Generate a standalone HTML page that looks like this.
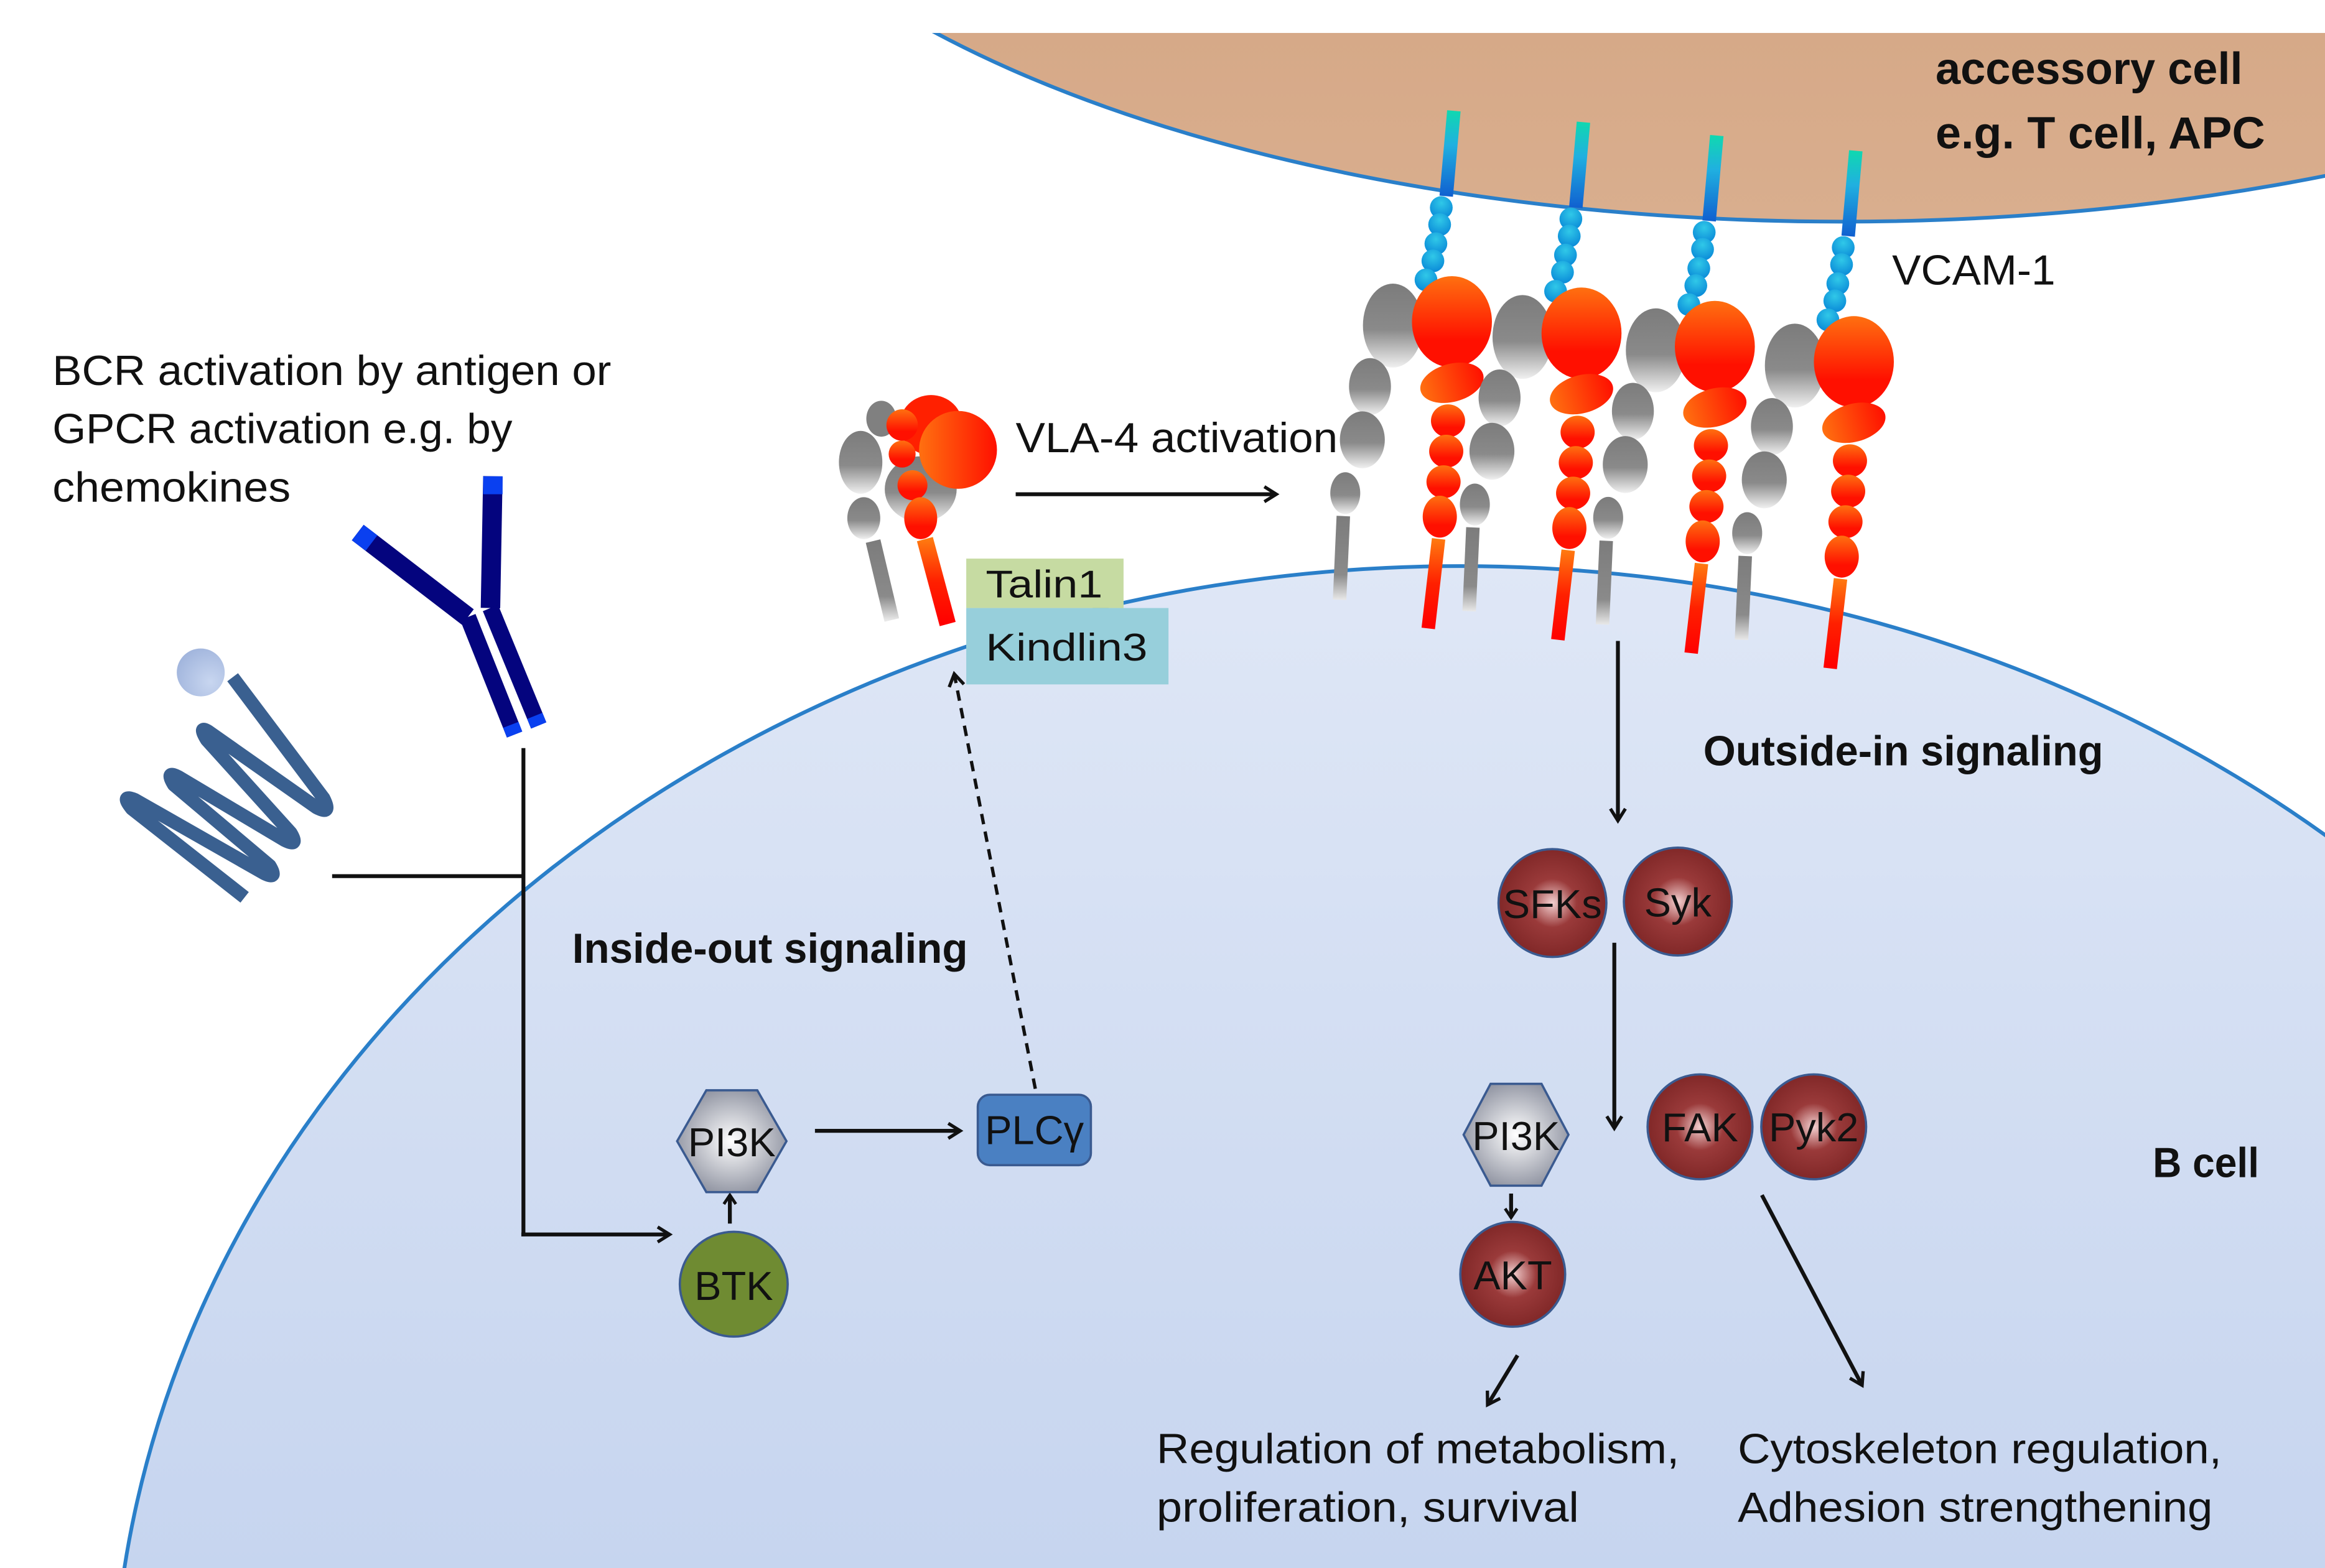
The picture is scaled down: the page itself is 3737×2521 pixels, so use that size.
<!DOCTYPE html>
<html><head><meta charset="utf-8"><style>
html,body{margin:0;padding:0;background:#fff;overflow:hidden;width:3737px;height:2521px;position:relative;}
svg{display:block;position:absolute;left:0;top:0;}
text{font-family:"Liberation Sans",sans-serif;fill:#111;}
</style></head><body>
<svg width="3737" height="2521" viewBox="0 0 1552 1047" preserveAspectRatio="none" xmlns="http://www.w3.org/2000/svg">
<defs>
<linearGradient id="bc" x1="0" y1="0" x2="0" y2="1"><stop offset="0" stop-color="#dfe7f6"/><stop offset="1" stop-color="#a6bde6"/></linearGradient>
<linearGradient id="ac" x1="0" y1="0" x2="0" y2="1"><stop offset="0" stop-color="#c9926c"/><stop offset="1" stop-color="#d9ae8e"/></linearGradient>
<radialGradient id="dr" cx="0.5" cy="0.5" r="0.5"><stop offset="0" stop-color="#f3d0d0"/><stop offset="0.45" stop-color="#9a3a3a"/><stop offset="1" stop-color="#812828"/></radialGradient>
<radialGradient id="gr" cx="0.5" cy="0.5" r="0.55"><stop offset="0" stop-color="#ffffff"/><stop offset="1" stop-color="#8e92a0"/></radialGradient>
<linearGradient id="rd" x1="0" y1="0" x2="0" y2="1"><stop offset="0" stop-color="#ff7010"/><stop offset="0.7" stop-color="#ff1000"/></linearGradient>
<linearGradient id="rd2" x1="0" y1="0" x2="1" y2="0"><stop offset="0" stop-color="#ff7010"/><stop offset="1" stop-color="#ff1000"/></linearGradient>
<linearGradient id="gy" x1="0" y1="0" x2="0" y2="1"><stop offset="0" stop-color="#7c7c7c"/><stop offset="0.55" stop-color="#8a8a8a"/><stop offset="1" stop-color="#f0f0f0"/></linearGradient>
<linearGradient id="gs" x1="0" y1="0" x2="0" y2="1"><stop offset="0" stop-color="#7c7c7c"/><stop offset="0.7" stop-color="#8a8a8a"/><stop offset="1" stop-color="#e8e8e8"/></linearGradient>
<linearGradient id="rs" x1="0" y1="0" x2="0" y2="1"><stop offset="0" stop-color="#ff7a10"/><stop offset="0.5" stop-color="#ff2000"/><stop offset="1" stop-color="#ff0000"/></linearGradient>
<linearGradient id="cy" x1="0" y1="0" x2="0" y2="1"><stop offset="0" stop-color="#10d8b0"/><stop offset="0.4" stop-color="#20b0e0"/><stop offset="1" stop-color="#1060d0"/></linearGradient>
<radialGradient id="bd" cx="0.5" cy="0.3" r="0.7"><stop offset="0" stop-color="#30c8e8"/><stop offset="1" stop-color="#0a8ad8"/></radialGradient>
<radialGradient id="hd" cx="0.7" cy="0.7" r="0.8"><stop offset="0" stop-color="#c8d6f0"/><stop offset="1" stop-color="#a0b4dc"/></radialGradient>
<marker id="ah" markerWidth="12" markerHeight="12" refX="9" refY="6" orient="auto" markerUnits="userSpaceOnUse"><path d="M1,1 L9,6 L1,11" fill="none" stroke="#111" stroke-width="2.2"/></marker>
<marker id="ahs" markerWidth="10" markerHeight="10" refX="7" refY="5" orient="auto" markerUnits="userSpaceOnUse"><path d="M1,1 L7,5 L1,9" fill="none" stroke="#111" stroke-width="2"/></marker>
</defs>
<ellipse cx="1230" cy="-200" rx="786" ry="348" fill="url(#ac)" stroke="#2a7fc9" stroke-width="2.5"/>
<rect x="0" y="0" width="1552" height="22" fill="#fff"/>
<ellipse cx="975" cy="1150" rx="900" ry="772" fill="url(#bc)" stroke="#2a7fc9" stroke-width="2.5"/>

<g id="int">
<line x1="970.5" y1="74" x2="965.4" y2="131" stroke="url(#cy)" stroke-width="9"/>
<g fill="url(#bd)"><circle cx="962.1" cy="138.6" r="7.6"/><circle cx="961" cy="150" r="7.6"/><circle cx="958.5" cy="162.7" r="7.6"/><circle cx="956.5" cy="174.2" r="7.6"/><circle cx="951.9" cy="186.9" r="7.6"/></g>
<ellipse cx="929.8" cy="217.4" rx="20" ry="28" fill="url(#gy)"/>
<ellipse cx="914.5" cy="258.1" rx="14" ry="19" fill="url(#gy)"/>
<ellipse cx="909.4" cy="293.7" rx="15" ry="19" fill="url(#gy)"/>
<ellipse cx="898" cy="329.3" rx="10" ry="14" fill="url(#gy)"/>
<line x1="896.7" y1="344.6" x2="894.2" y2="400.5" stroke="url(#gs)" stroke-width="9"/>
<ellipse cx="969.2" cy="214.9" rx="26.7" ry="30.5" fill="url(#rd)"/>
<ellipse cx="969.2" cy="255.6" rx="21.6" ry="12.7" fill="url(#rd2)" transform="rotate(-15 969.2 255.6)"/>
<g fill="url(#rd)"><ellipse cx="966.6" cy="281" rx="11.4" ry="11"/><ellipse cx="965.4" cy="301.3" rx="11.4" ry="11"/><ellipse cx="963.6" cy="321.7" rx="11.4" ry="11"/><ellipse cx="961.1" cy="345" rx="11.4" ry="14"/></g>
<line x1="960.3" y1="359.8" x2="953.4" y2="419.6" stroke="url(#rs)" stroke-width="9"/>
</g>
<use href="#int" transform="translate(86.5,7.6)"/>
<use href="#int" transform="translate(175.5,16.5)"/>
<use href="#int" transform="translate(268.3,26.7)"/>

<ellipse cx="614.6" cy="326.7" rx="24" ry="22" fill="url(#gy)"/>
<ellipse cx="588.3" cy="279.6" rx="10" ry="12" fill="#808080"/>
<ellipse cx="574.5" cy="308.7" rx="14.5" ry="21" fill="url(#gy)"/>
<ellipse cx="576.6" cy="346" rx="11" ry="14" fill="url(#gy)"/>
<line x1="582.8" y1="361.3" x2="595.3" y2="414" stroke="url(#gs)" stroke-width="10"/>
<line x1="617.4" y1="360" x2="632.6" y2="416.7" stroke="url(#rs)" stroke-width="11"/>
<ellipse cx="621.5" cy="283.8" rx="21" ry="20" fill="#ff2000"/>
<circle cx="639.5" cy="300.4" r="26" fill="url(#rd2)"/>
<g fill="url(#rd)"><circle cx="602.2" cy="283.8" r="10.5"/><circle cx="602.2" cy="303.2" r="9"/><circle cx="609.1" cy="324" r="10"/><ellipse cx="614.6" cy="346" rx="11" ry="14"/></g>

<rect x="645" y="373" width="105" height="33" fill="#c6dba2"/>
<text x="658" y="399" font-size="26" textLength="78" lengthAdjust="spacingAndGlyphs">Talin1</text>
<rect x="645" y="406" width="135" height="51" fill="#97cfdb"/>
<text x="658" y="441" font-size="26" textLength="108" lengthAdjust="spacingAndGlyphs">Kindlin3</text>

<!-- GPCR -->
<path d="M155.3,452.2 L216,533 Q222,545 211,539 L139.2,488.5 Q132,484 138,494 L194,556 Q200,566 190,561 L119,518.7 Q110,514 116,524 L180,578 Q186,588 176,583 L90,534 Q80,530 88,540 L163.3,599.2" fill="none" stroke="#3a6090" stroke-width="9" stroke-linejoin="round"/>
<circle cx="134" cy="449" r="16" fill="url(#hd)"/>

<g stroke="#04047e" stroke-width="13" fill="none">
<line x1="329" y1="318" x2="327.4" y2="406"/>
<line x1="238.8" y1="355.6" x2="312.3" y2="412"/>
<line x1="312.3" y1="412" x2="343.5" y2="490.5" stroke-width="11"/>
<line x1="327.4" y1="406" x2="359.6" y2="484.4" stroke-width="11"/>
</g>
<line x1="329" y1="318" x2="329" y2="330" stroke="#0a40f0" stroke-width="13"/>
<line x1="238.8" y1="355.6" x2="248" y2="362.6" stroke="#0a40f0" stroke-width="13"/>
<line x1="341" y1="484" x2="343.5" y2="490.5" stroke="#0a40f0" stroke-width="11"/>
<line x1="357" y1="478" x2="359.6" y2="484.4" stroke="#0a40f0" stroke-width="11"/>

<g stroke="#111" stroke-width="2.6" fill="none">
<line x1="349.4" y1="499.5" x2="349.4" y2="825.5"/>
<line x1="221.7" y1="585" x2="349.4" y2="585"/>
<line x1="348" y1="824.3" x2="447" y2="824.3" marker-end="url(#ah)"/>
<line x1="487.2" y1="817" x2="487.2" y2="798" marker-end="url(#ahs)"/>
<line x1="544" y1="755.1" x2="641" y2="755.1" marker-end="url(#ah)"/>
<line x1="691.1" y1="727" x2="637" y2="450" stroke-dasharray="7,5" stroke-width="2.2" marker-end="url(#ah)"/>
<line x1="678" y1="330" x2="852" y2="330" marker-end="url(#ah)"/>
<line x1="1080" y1="428" x2="1080" y2="548" marker-end="url(#ah)"/>
<line x1="1077.6" y1="629.5" x2="1077.6" y2="753.4" marker-end="url(#ah)"/>
<line x1="1008.7" y1="797" x2="1008.7" y2="813" marker-end="url(#ahs)"/>
<line x1="1013" y1="905" x2="993" y2="938" marker-end="url(#ah)"/>
<line x1="1176.1" y1="798" x2="1243" y2="925" marker-end="url(#ah)"/>
</g>

<g stroke="#3a5a90" stroke-width="1.5">
<circle cx="1036.3" cy="603" r="36" fill="url(#dr)"/>
<circle cx="1120" cy="602" r="36" fill="url(#dr)"/>
<circle cx="1134.8" cy="752.4" r="35" fill="url(#dr)"/>
<circle cx="1210.7" cy="752.4" r="35" fill="url(#dr)"/>
<circle cx="1009.8" cy="850.9" r="35" fill="url(#dr)"/>
<ellipse cx="489.8" cy="857.5" rx="36" ry="35" fill="#6f8b32"/>
<polygon points="471.5,728 505.5,728 525,762 505.5,796 471.5,796 452,762" fill="url(#gr)"/>
<polygon points="995,723.7 1029,723.7 1047,757.7 1029,791.7 995,791.7 977,757.7" fill="url(#gr)"/>
<rect x="652.7" y="731" width="75.5" height="47" rx="8" fill="#4a80c2"/>
</g>
<g font-size="27" text-anchor="middle">
<text x="1036.3" y="613">SFKs</text><text x="1120" y="612">Syk</text>
<text x="1134.8" y="762">FAK</text><text x="1210.7" y="762">Pyk2</text>
<text x="1009.8" y="861">AKT</text><text x="489.8" y="868">BTK</text>
<text x="488.5" y="772">PI3K</text><text x="1012" y="768">PI3K</text>
<text x="690.5" y="764">PLCγ</text>
</g>

<g font-size="28">
<text x="1292" y="56" font-weight="bold" font-size="30" textLength="205" lengthAdjust="spacingAndGlyphs">accessory cell</text>
<text x="1292" y="99" font-weight="bold" font-size="30" textLength="220" lengthAdjust="spacingAndGlyphs">e.g. T cell, APC</text>
<text x="1263" y="190" textLength="109" lengthAdjust="spacingAndGlyphs">VCAM-1</text>
<text x="678" y="302" textLength="215" lengthAdjust="spacingAndGlyphs">VLA-4 activation</text>
<text x="35" y="257" textLength="373" lengthAdjust="spacingAndGlyphs">BCR activation by antigen or</text>
<text x="35" y="296" textLength="307" lengthAdjust="spacingAndGlyphs">GPCR activation e.g. by</text>
<text x="35" y="335" textLength="159" lengthAdjust="spacingAndGlyphs">chemokines</text>
<text x="1137" y="511" font-weight="bold" textLength="267" lengthAdjust="spacingAndGlyphs">Outside-in signaling</text>
<text x="382" y="643" font-weight="bold" textLength="264" lengthAdjust="spacingAndGlyphs">Inside-out signaling</text>
<text x="1437" y="786" font-weight="bold" textLength="71" lengthAdjust="spacingAndGlyphs">B cell</text>
<text x="772" y="977" textLength="349" lengthAdjust="spacingAndGlyphs">Regulation of metabolism,</text>
<text x="772" y="1016" textLength="282" lengthAdjust="spacingAndGlyphs">proliferation, survival</text>
<text x="1160" y="977" textLength="323" lengthAdjust="spacingAndGlyphs">Cytoskeleton regulation,</text>
<text x="1160" y="1016" textLength="317" lengthAdjust="spacingAndGlyphs">Adhesion strengthening</text>
</g>
</svg>
</body></html>
